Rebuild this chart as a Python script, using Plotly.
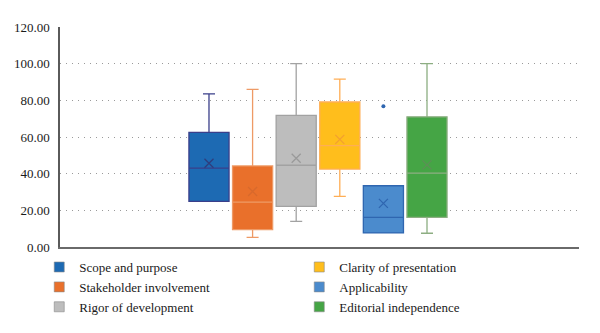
import plotly.graph_objects as go

series = ["Scope and purpose", "Stakeholder involvement", "Rigor of development",
          "Clarity of presentation", "Applicability", "Editorial independence"]
lower = [25.0, 5.3, 14.0, 27.6, 7.7, 7.5]
q1 = [24.9, 9.5, 22.2, 42.5, 7.7, 16.2]
median = [43.0, 24.5, 44.6, 55.3, 16.2, 40.3]
q3 = [62.5, 44.2, 71.8, 79.1, 33.4, 71.0]
upper = [83.5, 86.0, 100.0, 91.6, 33.4, 100.0]
mean = [45.7, 30.3, 48.4, 58.7, 23.8, 44.8]
outliers = [[], [], [], [], [76.8], []]

fills = ["#1D6AB3", "#E9702B", "#BDBDBD", "#FFBE1C", "#4B8BCD", "#45A545"]
lines = ["#3A3F8A", "#EE9A66", "#A2A2A2", "#FFAE55", "#2F66B0", "#8DAE82"]
meancol = ["#2E3E7E", "#D8692C", "#9A9A9A", "#F3A030", "#2F66B0", "#5E8F58"]

FONT = "Liberation Serif, Times New Roman, serif"
fig = go.Figure()
for i, name in enumerate(series):
    fig.add_trace(go.Box(
        x=[i], q1=[q1[i]], median=[median[i]], q3=[q3[i]],
        lowerfence=[lower[i]], upperfence=[upper[i]],
        width=0.92, whiskerwidth=0.3,
        fillcolor=fills[i], line=dict(color=lines[i], width=1.3),
        boxpoints=False, showlegend=False, name=name, hoverinfo="skip"))
    fig.add_trace(go.Scatter(
        x=[i], y=[mean[i]], mode="markers",
        marker=dict(symbol="x-thin-open", size=9, color=meancol[i],
                    line=dict(color=meancol[i], width=1.3)),
        showlegend=False, hoverinfo="skip"))
    if outliers[i]:
        fig.add_trace(go.Scatter(
            x=[i] * len(outliers[i]), y=outliers[i], mode="markers",
            marker=dict(symbol="circle", size=4, color=lines[i]),
            showlegend=False, hoverinfo="skip"))
    fig.add_trace(go.Scatter(
        x=[None], y=[None], mode="markers", name=name,
        marker=dict(symbol="square", size=10, color=fills[i],
                    line=dict(color="#8A8A8A", width=0.6)),
        legend="legend" if i < 3 else "legend2"))

legend_common = dict(font=dict(family=FONT, size=13, color="#1A1A1A"),
                     bgcolor="rgba(0,0,0,0)", tracegroupgap=0, itemwidth=30,
                     yanchor="bottom", xanchor="left", orientation="v")

fig.update_layout(
    width=600, height=333,
    margin=dict(l=60, r=21, t=27, b=85),
    paper_bgcolor="white", plot_bgcolor="white",
    showlegend=True,
    legend=dict(x=-0.040, y=-0.335, **legend_common),
    legend2=dict(x=0.461, y=-0.335, **legend_common),
    xaxis=dict(range=[-3.417, 8.486], showticklabels=False, showgrid=False,
               zeroline=False, showline=True, linecolor="#6A6A6A", linewidth=2,
               ticks=""),
    yaxis=dict(range=[0, 120], dtick=20, tickformat=".2f",
               showgrid=True, gridcolor="#9A9A9A", griddash="1px,5px", gridwidth=1,
               zeroline=False, showline=True, linecolor="#5A5A5A", linewidth=1.5,
               ticks="", ticklabelstandoff=6,
               tickfont=dict(family=FONT, size=13, color="#1A1A1A")),
)

fig.write_html("out.html")
